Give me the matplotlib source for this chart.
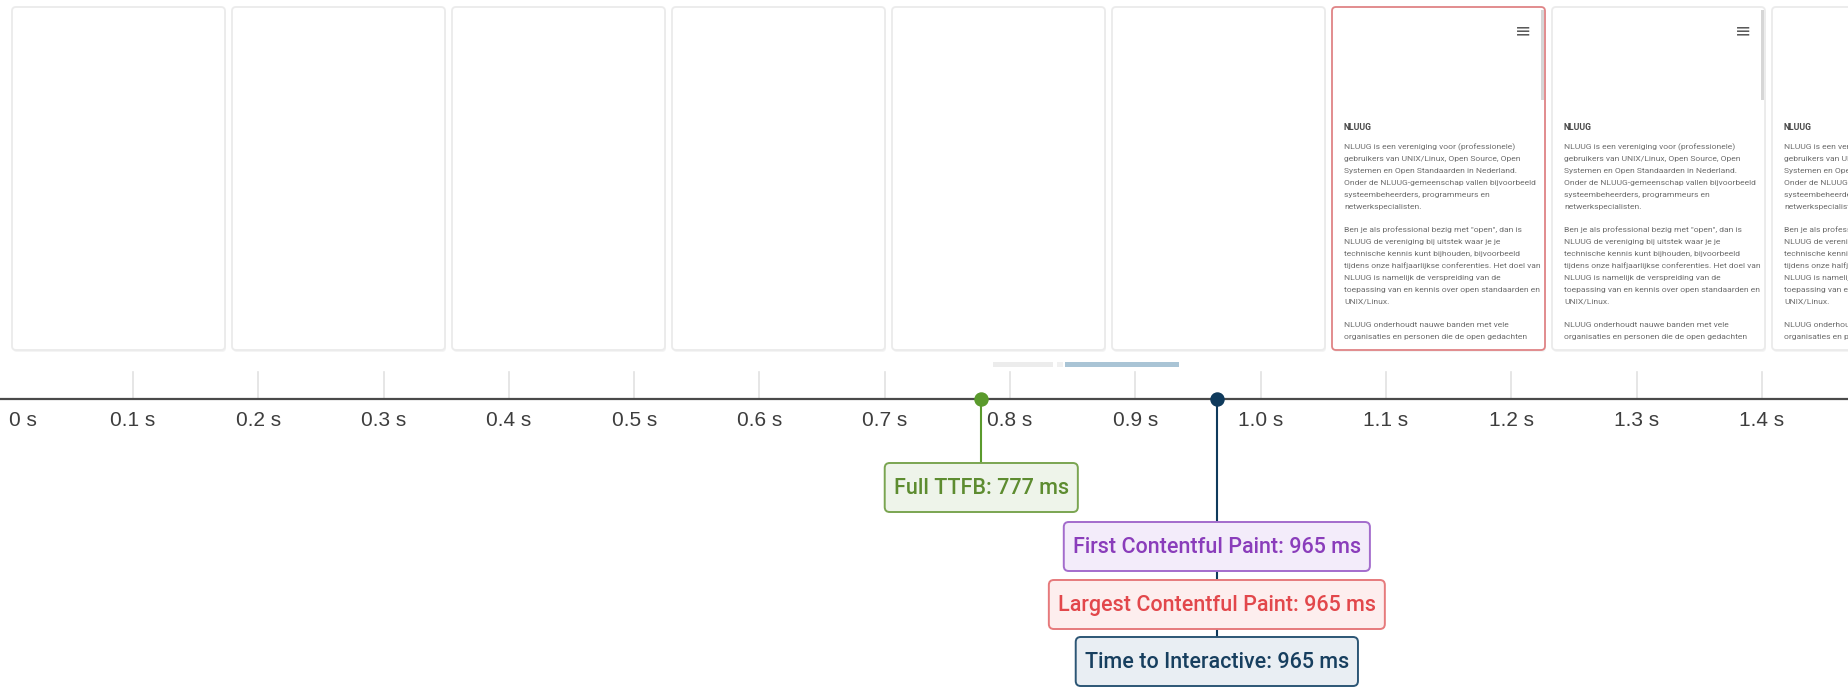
import matplotlib.pyplot as plt
from matplotlib.patches import FancyBboxPatch, Rectangle

W, H = 1849, 688

# timeline ticks (ms)
tick_ms = [0, 100, 200, 300, 400, 500, 600, 700, 800, 900, 1000, 1100, 1200, 1300, 1400]
tick_labels = ["0 s", "0.1 s", "0.2 s", "0.3 s", "0.4 s", "0.5 s", "0.6 s", "0.7 s",
               "0.8 s", "0.9 s", "1.0 s", "1.1 s", "1.2 s", "1.3 s", "1.4 s"]

# metrics
metric_names = ["Full TTFB", "First Contentful Paint", "Largest Contentful Paint", "Time to Interactive"]
metric_ms = [777, 965, 965, 965]
metric_text = ["#5d8c30", "#8a3dbb", "#e2474b", "#173f5f"]
metric_edge = ["#7aa551", "#a36ccc", "#e67a7c", "#2c5675"]
metric_fill = ["#eef4ea", "#f3ecfa", "#fdeeee", "#e9eef3"]

marker_ms = [777, 965]
marker_colors = ["#5a9a2c", "#0f3a5c"]

# filmstrip
frame_shows_page = [False, False, False, False, False, False, True, True, True]
highlight_frame = 6
page_title = "NLUUG"
page_paras = [
    ["NLUUG is een vereniging voor (professionele)",
     "gebruikers van UNIX/Linux, Open Source, Open",
     "Systemen en Open Standaarden in Nederland.",
     "Onder de NLUUG-gemeenschap vallen bijvoorbeeld",
     "systeembeheerders, programmeurs en",
     "netwerkspecialisten."],
    ["Ben je als professional bezig met \"open\", dan is",
     "NLUUG de vereniging bij uitstek waar je je",
     "technische kennis kunt bijhouden, bijvoorbeeld",
     "tijdens onze halfjaarlijkse conferenties. Het doel van",
     "NLUUG is namelijk de verspreiding van de",
     "toepassing van en kennis over open standaarden en",
     "UNIX/Linux."],
    ["NLUUG onderhoudt nauwe banden met vele",
     "organisaties en personen die de open gedachten"],
]

fig = plt.figure(figsize=(W / 100, H / 100), dpi=100)
fig.patch.set_facecolor("white")

# pixel axes for the filmstrip
ax_px = fig.add_axes([0, 0, 1, 1])
ax_px.set_xlim(0, W)
ax_px.set_ylim(H, 0)
ax_px.axis("off")

# timeline axes: x in ms, y in px
ax = fig.add_axes([0, 0, 1, 1])
px_per_ms = 1.253
x0_px = 7.7
ax.set_xlim(-x0_px / px_per_ms, (W - x0_px) / px_per_ms)
ax.set_ylim(H, 0)
ax.axis("off")
ax.patch.set_alpha(0)

# frames
fr_left, fr_step, fr_w, fr_top, fr_h = 12, 220, 213, 7, 343
for i, page in enumerate(frame_shows_page):
    fx = fr_left + i * fr_step
    shadow = FancyBboxPatch((fx + 1, fr_top + 2), fr_w, fr_h,
                            boxstyle="round,pad=0,rounding_size=4",
                            fc="#f4f4f4", ec="none", zorder=1)
    ax_px.add_patch(shadow)
    ec = "#df8486" if i == highlight_frame else "#ebebeb"
    frame = FancyBboxPatch((fx, fr_top), fr_w, fr_h,
                           boxstyle="round,pad=0,rounding_size=4",
                           fc="white", ec=ec, lw=1.3, zorder=2)
    ax_px.add_patch(frame)
    if not page:
        continue
    ax_px.text(fx + 191, 31, "\u2261", ha="center", va="center", fontsize=14,
               color="#5a5a5a", family="DejaVu Sans", zorder=3, clip_path=frame)
    ax_px.add_patch(Rectangle((fx + fr_w - 4, fr_top + 3), 2.5, 90,
                              fc="#d6d6d6", ec="none", zorder=3))
    t = ax_px.text(fx + 12, 128, page_title, ha="left", va="center", fontsize=6.2,
                   fontweight="bold", color="#4a4a4a", family="Roboto", zorder=3)
    t.set_clip_path(frame)
    y = 147
    for para in page_paras:
        for line in para:
            t = ax_px.text(fx + 12, y, line, ha="left", va="center", fontsize=6.1,
                           color="#6e6e6e", family="Roboto", zorder=3)
            t.set_clip_path(frame)
            y += 12
        y += 11

# filmstrip scrollbar
ax_px.add_patch(Rectangle((993, 362), 60, 5, fc="#ececec", ec="none"))
ax_px.add_patch(Rectangle((1057, 362), 6, 5, fc="#f0f0f0", ec="none"))
ax_px.add_patch(Rectangle((1065, 362), 114, 5, fc="#a9c4d5", ec="none"))

# axis line, ticks, labels
axis_y = 399
ax.axhline(axis_y, color="#4a4a4a", lw=1.6, zorder=3)
for ms, lab in zip(tick_ms, tick_labels):
    if ms > 0:
        ax.plot([ms, ms], [372, axis_y], color="#e2e2e2", lw=1.2, zorder=2)
        ax.text(ms, 421, lab, ha="center", va="center", fontsize=15,
                color="#3d3d3d", family="Liberation Sans")
    else:
        ax.text(ms + 1, 421, lab, ha="left", va="center", fontsize=15,
                color="#3d3d3d", family="Liberation Sans")

# metric boxes
row_top = [463, 522, 580, 637]
box_h = 49
fig.canvas.draw()
renderer = fig.canvas.get_renderer()
for name, ms, tc, ec, fc, top in zip(metric_names, metric_ms, metric_text,
                                      metric_edge, metric_fill, row_top):
    t = ax.text(ms, top + box_h / 2 + 1, f"{name}: {ms} ms", ha="center", va="center",
                fontsize=15.5, fontweight="medium", color=tc, family="Roboto", zorder=6)
    bb = t.get_window_extent(renderer)
    bx0, bx1 = bb.x0 - 9, bb.x1 + 9
    box = FancyBboxPatch((bx0, top), bx1 - bx0, box_h,
                         boxstyle="round,pad=0,rounding_size=5",
                         fc=fc, ec=ec, lw=1.4, zorder=5, transform=ax_px.transData)
    ax.add_patch(box)

# marker stems and dots
stem_end = [row_top[0], row_top[3]]
for ms, c, end in zip(marker_ms, marker_colors, stem_end):
    ax.plot([ms, ms], [axis_y, end], color=c, lw=1.5, zorder=4)
    ax.plot([ms], [axis_y], "o", color=c, markersize=9.4, zorder=7)

fig.savefig("out.png", dpi=100)
